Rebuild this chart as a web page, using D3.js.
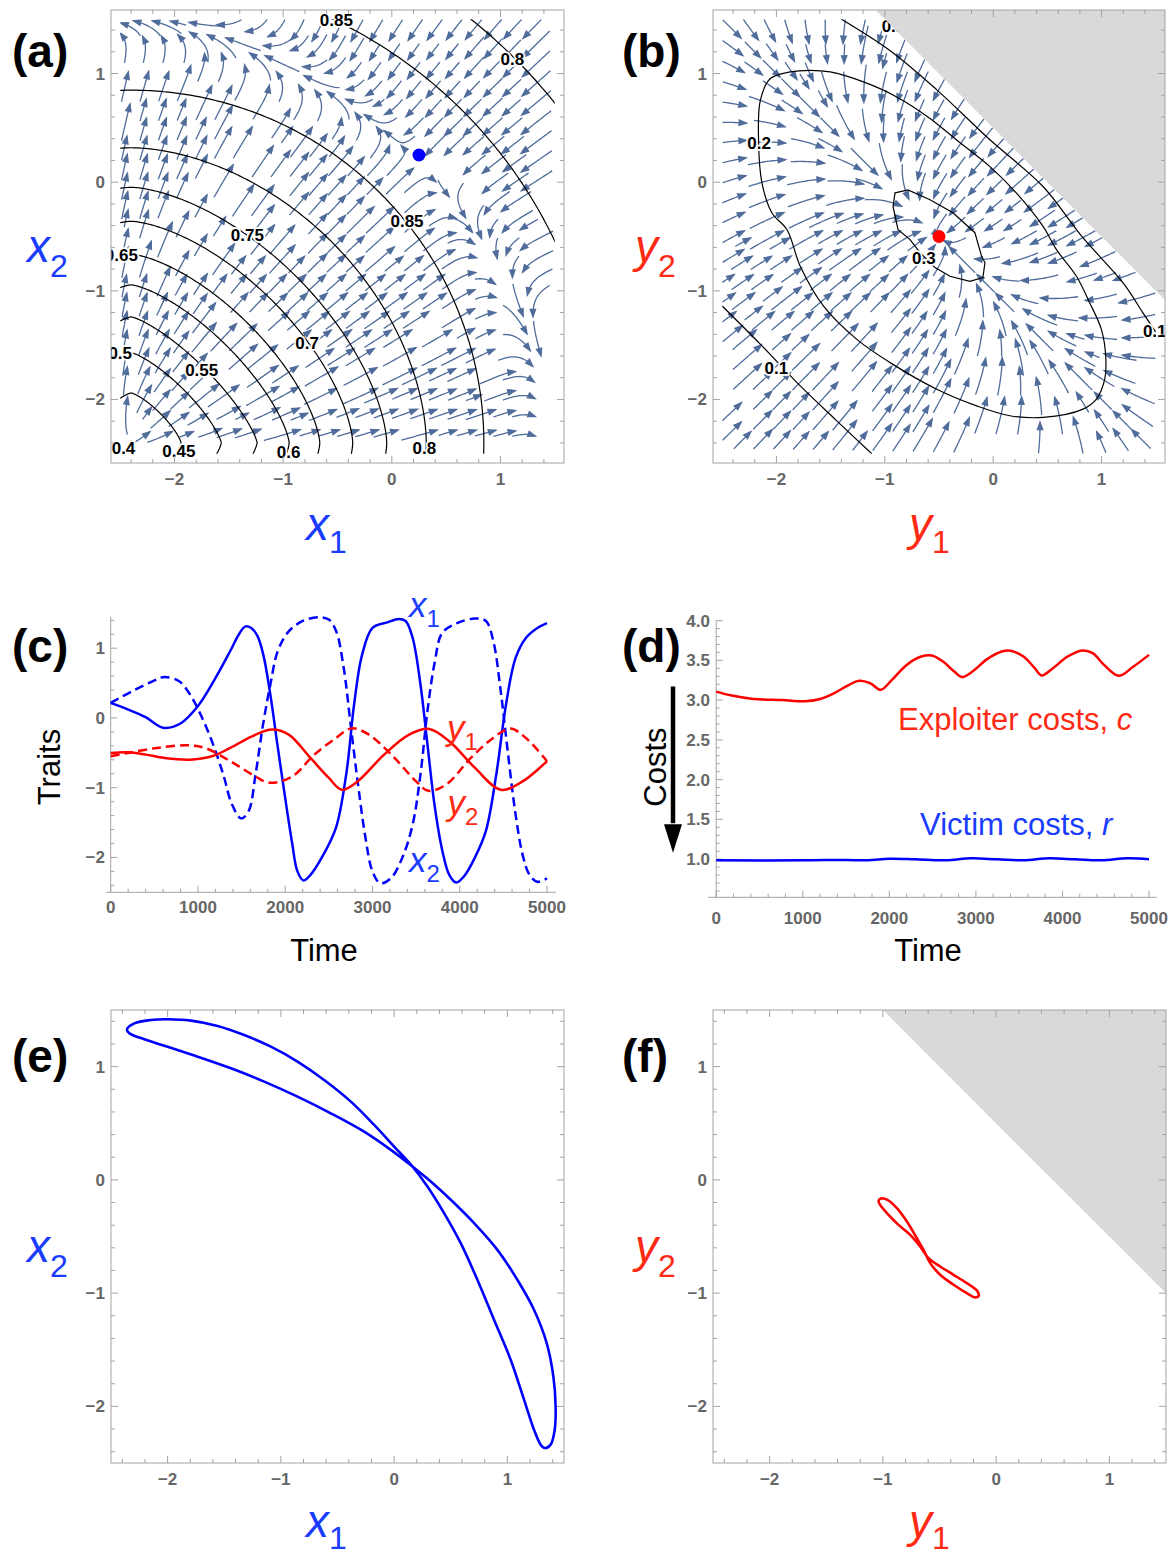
<!DOCTYPE html>
<html>
<head>
<meta charset="utf-8">
<title>Trait dynamics</title>
<script src="https://cdn.jsdelivr.net/npm/d3@7"></script>
<style>
  body { margin: 0; background: #fff; }
  svg text { font-family: "Liberation Sans", Arial, Helvetica, sans-serif; }
</style>
</head>
<body>
<div id="root"></div>
<script>
// ---------- values ----------

// (a) fitness contours: common centre, radius and superellipse exponent per level
const contourCenterA = [-2.4, -2.4];
const contourLevelsA = [0.4, 0.45, 0.5, 0.55, 0.6, 0.65, 0.7, 0.75, 0.8, 0.85, 0.85, 0.8];
const contourRadiiA = [0.02, 0.46, 0.83, 1.16, 1.455, 1.737, 2.04, 2.353, 2.717, 3.247, 4.32, 5.0];
const contourShapeA = [2, 1.3, 1.3, 1.3, 1.4, 1.48, 1.55, 1.6, 1.8, 2, 2, 2];
const contourTextA = ['0.85', '0.8', '0.85', '0.75', '0.65', '0.7', '0.5', '0.55', '0.4', '0.45', '0.6', '0.8'];
const contourTextXA = [-0.51, 1.11, 0.14, -1.33, -2.49, -0.78, -2.5, -1.75, -2.47, -1.96, -0.95, 0.30];
const contourTextYA = [1.49, 1.13, -0.36, -0.49, -0.67, -1.48, -1.57, -1.73, -2.45, -2.47, -2.48, -2.45];
const equilibriumA = [0.25, 0.25];
// (a) selection gradient: ridge radius, extra radius at the ends, ridge width, along-ridge and inward rates
const ridgeA = [3.7, 0.25, 0.28];
const flowRatesA = [0.3, 0.25];

// (b) exploiter contours
const contour02B = [[-2.164, 0.358], [-2.148, 0.755], [-2.056, 0.954], [-1.872, 1.015], [-1.688, 1.030],
  [-1.504, 1.015], [-1.197, 0.923], [-0.890, 0.785], [-0.583, 0.587], [-0.337, 0.388], [-0.030, 0.143],
  [0.215, -0.101], [0.460, -0.407], [0.584, -0.621], [0.768, -0.866], [0.890, -1.110], [0.998, -1.355],
  [1.038, -1.600], [1.029, -1.814], [0.952, -1.997], [0.829, -2.089], [0.460, -2.165], [0.154, -2.150],
  [-0.153, -2.059], [-0.521, -1.906], [-0.951, -1.661], [-1.258, -1.447], [-1.565, -1.141],
  [-1.780, -0.774], [-1.902, -0.438], [-2.041, -0.284], [-2.133, -0.009]];
const contour03B = [[-0.906, -0.098], [-0.786, -0.071], [-0.583, -0.162], [-0.371, -0.281], [-0.169, -0.465],
  [-0.107, -0.683], [-0.076, -0.740], [-0.095, -0.878], [-0.215, -0.912], [-0.399, -0.866], [-0.537, -0.786],
  [-0.675, -0.649], [-0.767, -0.529], [-0.878, -0.437], [-0.924, -0.226]];
const contour01LowB = [[-2.5, -1.14], [-2.14, -1.5], [-1.78, -1.875], [-1.45, -2.19], [-1.12, -2.5]];
const contour01HighB = [[-1.40, 1.50], [-0.95, 1.21], [-0.52, 0.85], [-0.03, 0.39], [0.46, -0.04],
  [0.81, -0.49], [1.20, -0.93], [1.38, -1.20], [1.5, -1.38]];
const contourTextB = ['0.2', '0.3', '0.1', '0.1', '0.1'];
const contourTextXB = [-2.16, -0.64, -2.0, 1.49, -0.92];
const contourTextYB = [0.36, -0.70, -1.71, -1.37, 1.44];
const equilibriumB = [-0.5, -0.5];
const flowRatesB = [1, 0.3];   // across and along the slow direction
const feasibleSum = 0.5;       // y1 + y2 above this is shaded

// (c) traits over time
const traitX1 = [[0, 0.215], [200, 0.12], [400, 0.01], [600, -0.14], [800, -0.08], [1000, 0.17], [1200, 0.57],
  [1370, 0.96], [1470, 1.2], [1540, 1.31], [1610, 1.29], [1680, 1.18], [1750, 0.9], [1830, 0.33], [1910, -0.38],
  [2000, -1.15], [2080, -1.8], [2140, -2.2], [2210, -2.33], [2290, -2.25], [2420, -2.0], [2580, -1.58],
  [2700, -0.8], [2790, 0.2], [2880, 0.9], [3000, 1.29], [3170, 1.37], [3300, 1.42], [3380, 1.39], [3460, 1.15],
  [3550, 0.48], [3630, -0.38], [3710, -1.24], [3800, -1.9], [3880, -2.25], [3960, -2.36], [4050, -2.27],
  [4175, -2.0], [4300, -1.62], [4420, -0.8], [4530, 0.19], [4640, 0.86], [4760, 1.15], [4890, 1.29], [5000, 1.36]];
const traitX2 = [[0, 0.215], [240, 0.38], [490, 0.53], [600, 0.585], [780, 0.53], [910, 0.335], [1030, 0.05],
  [1160, -0.335], [1290, -0.81], [1390, -1.24], [1495, -1.44], [1580, -1.34], [1660, -0.81], [1745, -0.1],
  [1830, 0.48], [1915, 0.96], [2040, 1.24], [2200, 1.39], [2380, 1.445], [2500, 1.41], [2585, 1.24],
  [2670, 0.72], [2750, -0.1], [2835, -0.96], [2920, -1.72], [3000, -2.2], [3090, -2.37], [3210, -2.3],
  [3340, -2.01], [3460, -1.53], [3550, -0.81], [3630, 0.1], [3715, 0.81], [3800, 1.22], [3970, 1.36],
  [4175, 1.425], [4300, 1.39], [4385, 1.1], [4470, 0.38], [4550, -0.48], [4635, -1.34], [4720, -1.96],
  [4800, -2.25], [4890, -2.35], [5000, -2.3]];
const traitY1 = [[0, -0.502], [200, -0.493], [400, -0.526], [620, -0.574], [900, -0.598], [1160, -0.55],
  [1370, -0.43], [1620, -0.263], [1850, -0.167], [2040, -0.24], [2290, -0.574], [2500, -0.86], [2650, -1.03],
  [2830, -0.91], [3130, -0.53], [3420, -0.24], [3650, -0.158], [3880, -0.335], [4175, -0.717], [4470, -1.03],
  [4720, -0.91], [5000, -0.62]];
const traitY2 = [[0, -0.55], [200, -0.502], [530, -0.43], [870, -0.392], [1080, -0.43], [1370, -0.62],
  [1660, -0.84], [1820, -0.93], [2080, -0.84], [2330, -0.53], [2580, -0.29], [2760, -0.15], [2960, -0.24],
  [3250, -0.57], [3500, -0.91], [3640, -1.045], [3840, -0.96], [4130, -0.57], [4380, -0.29], [4580, -0.153],
  [4760, -0.29], [5000, -0.62]];

// (d) costs over time
const costExploiter = [[0, 3.107], [180, 3.057], [430, 3.015], [770, 3.0], [1020, 2.985], [1190, 3.011],
  [1360, 3.086], [1530, 3.19], [1650, 3.242], [1780, 3.212], [1900, 3.13], [2030, 3.254], [2200, 3.443],
  [2370, 3.548], [2490, 3.56], [2620, 3.485], [2750, 3.359], [2840, 3.29], [2960, 3.359], [3130, 3.515],
  [3300, 3.611], [3400, 3.62], [3550, 3.548], [3680, 3.401], [3760, 3.31], [3890, 3.401], [4060, 3.548],
  [4230, 3.624], [4350, 3.59], [4480, 3.443], [4650, 3.305], [4820, 3.422], [5000, 3.569]];
const costVictim = [[0, 0.985], [1000, 0.985], [1500, 0.99], [1750, 0.985], [2000, 1.005], [2300, 0.997],
  [2650, 0.985], [2950, 1.01], [3250, 0.997], [3550, 0.985], [3850, 1.01], [4150, 0.997], [4450, 0.985],
  [4750, 1.01], [5000, 1.0]];

// (e) victim limit cycle, (f) exploiter limit cycle
const cycleX = [[-2.359, 1.329], [-2.294, 1.382], [-2.147, 1.412], [-2.0, 1.418], [-1.794, 1.406], [-1.559, 1.359],
  [-1.324, 1.279], [-1.088, 1.176], [-0.853, 1.044], [-0.618, 0.882], [-0.382, 0.691], [-0.176, 0.485],
  [0, 0.294], [0.162, 0.118], [0.294, -0.059], [0.441, -0.294], [0.588, -0.559], [0.735, -0.882],
  [0.882, -1.235], [1.029, -1.588], [1.147, -1.941], [1.235, -2.206], [1.294, -2.338], [1.329, -2.368],
  [1.382, -2.338], [1.418, -2.206], [1.426, -2.0], [1.406, -1.735], [1.347, -1.441], [1.235, -1.147],
  [1.088, -0.882], [0.912, -0.618], [0.706, -0.382], [0.5, -0.176], [0.324, -0.015], [0.162, 0.118],
  [-0.029, 0.265], [-0.265, 0.426], [-0.559, 0.588], [-0.853, 0.735], [-1.147, 0.868], [-1.441, 0.985],
  [-1.735, 1.088], [-2.0, 1.176], [-2.206, 1.241], [-2.338, 1.294]];
const cycleY = [[-1.018, -0.165], [-0.959, -0.176], [-0.876, -0.25], [-0.788, -0.368], [-0.7, -0.515],
  [-0.641, -0.618], [-0.582, -0.735], [-0.494, -0.838], [-0.376, -0.926], [-0.259, -1.0], [-0.185, -1.038],
  [-0.153, -1.021], [-0.171, -0.976], [-0.259, -0.912], [-0.376, -0.838], [-0.494, -0.765], [-0.597, -0.691],
  [-0.671, -0.588], [-0.759, -0.485], [-0.862, -0.397], [-0.95, -0.309], [-1.024, -0.221], [-1.038, -0.185]];

// ---------- drawing ----------
const FRAME = '#a3a3a3', TICKTXT = '#666666', STREAM = '#4f6c9b';
const BLUE = '#0000ff', RED = '#ff0000', LBLUE = '#1a3cff', LRED = '#ff2a14';

const svg = d3.select('#root').append('svg').attr('width', 1170).attr('height', 1558);
const defs = svg.append('defs');

const majorT = [-2, -1, 0, 1];
const minorT = d3.range(-12, 8).map(i => i / 5).filter(v => Math.abs(v - Math.round(v)) > 1e-6);

function addClip(id, x, y, w, h) {
  defs.append('clipPath').attr('id', id).append('rect')
    .attr('x', x).attr('y', y).attr('width', w).attr('height', h);
  return 'url(#' + id + ')';
}

function drawFrame(g, xs, ys) {
  const [x0, x1] = xs.range(), [y0, y1] = ys.range();
  g.append('rect').attr('x', x0).attr('y', y1).attr('width', x1 - x0).attr('height', y0 - y1)
    .attr('fill', 'none').attr('stroke', FRAME).attr('stroke-width', 1);
  const tk = g.append('g').attr('stroke', FRAME).attr('stroke-width', 1);
  [[majorT, 7], [minorT, 4]].forEach(([vals, len]) => {
    tk.selectAll(null).data(vals).join('line')
      .attr('x1', d => xs(d)).attr('x2', d => xs(d)).attr('y1', y0).attr('y2', y0 - len);
    tk.selectAll(null).data(vals).join('line')
      .attr('x1', d => xs(d)).attr('x2', d => xs(d)).attr('y1', y1).attr('y2', y1 + len);
    tk.selectAll(null).data(vals).join('line')
      .attr('y1', d => ys(d)).attr('y2', d => ys(d)).attr('x1', x0).attr('x2', x0 + len);
    tk.selectAll(null).data(vals).join('line')
      .attr('y1', d => ys(d)).attr('y2', d => ys(d)).attr('x1', x1).attr('x2', x1 - len);
  });
  const fmt = d3.format('d');
  g.selectAll(null).data(majorT).join('text')
    .attr('x', d => xs(d)).attr('y', y0 + 22).attr('text-anchor', 'middle')
    .attr('fill', TICKTXT).style('font-size', '17px').style('font-weight', 'bold').text(fmt);
  g.selectAll(null).data(majorT).join('text')
    .attr('x', x0 - 6).attr('y', d => ys(d) + 6).attr('text-anchor', 'end')
    .attr('fill', TICKTXT).style('font-size', '17px').style('font-weight', 'bold').text(fmt);
}

function panelLabel(txt, x, y) {
  svg.append('text').attr('x', x).attr('y', y).style('font-size', '46px').style('font-weight', 'bold')
    .attr('fill', '#000').text(txt);
}

function subLabel(g, x, y, base, sub, size, subSize, color, drop) {
  const t = g.append('text').attr('x', x).attr('y', y).attr('fill', color).style('font-size', size + 'px');
  t.append('tspan').style('font-style', 'italic').text(base);
  t.append('tspan').attr('dy', drop).style('font-size', subSize + 'px').text(sub);
  return t;
}

// stream tracing with a simple occupancy grid, like a stream plot
function traceStreams(field, inside, step, back, fwd, dsep) {
  const occ = new Map();
  const key = (x, y) => Math.floor(x / dsep) + ',' + Math.floor(y / dsep);
  const h = 0.006;
  const dir = (x, y) => {
    const v = field(x, y), m = Math.hypot(v[0], v[1]);
    return m < 1e-5 ? null : [v[0] / m, v[1] / m];
  };
  function trace(x, y, sgn, maxLen, id) {
    const pts = [];
    let len = 0;
    while (len < maxLen) {
      const d1 = dir(x, y); if (!d1) break;
      const d2 = dir(x + sgn * d1[0] * h / 2, y + sgn * d1[1] * h / 2); if (!d2) break;
      const nx = x + sgn * d2[0] * h, ny = y + sgn * d2[1] * h;
      if (!inside(nx, ny)) break;
      const o = occ.get(key(nx, ny));
      if (o !== undefined && o !== id) break;
      x = nx; y = ny; len += h;
      pts.push([x, y]);
    }
    return pts;
  }
  const lines = [];
  let id = 0;
  for (let sy = 1.45; sy > -2.5; sy -= step) {
    for (let sx = -2.45; sx < 1.5; sx += step) {
      if (!inside(sx, sy) || occ.has(key(sx, sy))) continue;
      const b = trace(sx, sy, -1, back, id).reverse();
      const f = trace(sx, sy, 1, fwd, id);
      if (f.length < 6) continue;
      const pts = b.concat([[sx, sy]], f);
      if (pts.length * h < 0.12) continue;
      pts.forEach(p => occ.set(key(p[0], p[1]), id));
      lines.push(pts);
      id++;
    }
  }
  return lines;
}

function drawStreams(g, xs, ys, lines) {
  const line = d3.line().x(p => xs(p[0])).y(p => ys(p[1]));
  g.selectAll(null).data(lines).join('path')
    .attr('d', d => line(d.filter((p, i) => i % 3 === 0 || i === d.length - 1)))
    .attr('fill', 'none').attr('stroke', STREAM).attr('stroke-width', 1.3);
  g.selectAll(null).data(lines).join('path')
    .attr('d', d => {
      const a = d[d.length - 1], b = d[d.length - 6];
      const ax = xs(a[0]), ay = ys(a[1]);
      let ux = ax - xs(b[0]), uy = ay - ys(b[1]);
      const m = Math.hypot(ux, uy) || 1; ux /= m; uy /= m;
      const tx = ax + ux * 2, ty = ay + uy * 2, bx = ax - ux * 8, by = ay - uy * 8;
      return `M${tx},${ty}L${bx - uy * 3.6},${by + ux * 3.6}L${bx + uy * 3.6},${by - ux * 3.6}Z`;
    })
    .attr('fill', STREAM);
}

function labelOnLine(g, xs, ys, texts, xv, yv) {
  g.selectAll(null).data(texts).join('text')
    .attr('x', (d, i) => xs(xv[i])).attr('y', (d, i) => ys(yv[i]) + 6)
    .attr('text-anchor', 'middle').style('font-size', '17px').style('font-weight', 'bold')
    .attr('fill', '#000').attr('stroke', '#fff').attr('stroke-width', 3.5)
    .style('paint-order', 'stroke').text(d => d);
}

// ----- (a) -----
const domAB = [-2.585, 1.585];
const xa = d3.scaleLinear().domain(domAB).range([111, 564]);
const ya = d3.scaleLinear().domain(domAB).range([463, 10]);
const gA = svg.append('g');
const regionA = addClip('regA', xa(-2.5), ya(1.5), xa(1.5) - xa(-2.5), ya(-2.5) - ya(1.5));
const frameClipA = addClip('frA', 111, 10, 453, 453);

function fieldA(x, y) {
  const dx = x - contourCenterA[0], dy = y - contourCenterA[1];
  const r = Math.hypot(dx, dy), th = Math.atan2(dy, dx);
  const s2 = Math.sin(2 * (th - Math.PI / 4));
  const R = ridgeA[0] + ridgeA[1] * Math.pow(s2, 4);
  const vr = R - r;
  const g = Math.exp(-Math.pow((r - R) / ridgeA[2], 2));
  const vt = s2 * (flowRatesA[0] * g - flowRatesA[1] * Math.max(R - r, 0));
  return [(vr * dx - vt * dy) / r, (vr * dy + vt * dx) / r];
}
const insideBox = (x, y) => x >= -2.5 && x <= 1.5 && y >= -2.5 && y <= 1.5;
drawStreams(gA.append('g').attr('clip-path', regionA), xa, ya,
  traceStreams(fieldA, insideBox, 0.18, 0.17, 0.17, 0.085));

function superArc(c, r, p) {
  return d3.range(0, 241).map(i => {
    const t = -0.4 + (Math.PI / 2 + 0.8) * i / 240;
    const ct = Math.cos(t), st = Math.sin(t);
    return [c[0] + r * Math.sign(ct) * Math.pow(Math.abs(ct), 2 / p),
            c[1] + r * Math.sign(st) * Math.pow(Math.abs(st), 2 / p)];
  });
}
const lineA = d3.line().x(p => xa(p[0])).y(p => ya(p[1]));
gA.append('g').attr('clip-path', regionA).selectAll(null).data(contourLevelsA).join('path')
  .attr('d', (d, i) => lineA(superArc(contourCenterA, contourRadiiA[i], contourShapeA[i])))
  .attr('fill', 'none').attr('stroke', '#000').attr('stroke-width', 1.2);
labelOnLine(gA.append('g').attr('clip-path', frameClipA), xa, ya, contourTextA, contourTextXA, contourTextYA);
gA.append('circle').attr('cx', xa(equilibriumA[0])).attr('cy', ya(equilibriumA[1])).attr('r', 6.5).attr('fill', BLUE);
drawFrame(gA, xa, ya);

// ----- (b) -----
const xb = d3.scaleLinear().domain(domAB).range([713, 1165]);
const yb = ya;
const gB = svg.append('g');
const regionB = addClip('regB', xb(-2.5), yb(1.5), xb(1.5) - xb(-2.5), yb(-2.5) - yb(1.5));
const frameClipB = addClip('frB', 713, 10, 452, 453);

function fieldB(x, y) {
  const ux = x - equilibriumB[0], uy = y - equilibriumB[1];
  const s = (ux + uy) / Math.SQRT2, t = (ux - uy) / Math.SQRT2;
  const vs = -flowRatesB[0] * s, vt = -flowRatesB[1] * t;
  return [(vs + vt) / Math.SQRT2, (vs - vt) / Math.SQRT2];
}
const insideB = (x, y) => insideBox(x, y) && x + y < feasibleSum;
drawStreams(gB.append('g').attr('clip-path', regionB), xb, yb,
  traceStreams(fieldB, insideB, 0.18, 0.17, 0.17, 0.085));

const lineB = d3.line().x(p => xb(p[0])).y(p => yb(p[1]));
const cB = gB.append('g').attr('clip-path', regionB).attr('fill', 'none').attr('stroke', '#000').attr('stroke-width', 1.2);
cB.append('path').attr('d', lineB.curve(d3.curveCatmullRomClosed.alpha(0.5))(contour02B));
cB.append('path').attr('d', lineB.curve(d3.curveLinearClosed)(contour03B));
cB.append('path').attr('d', lineB.curve(d3.curveCatmullRom.alpha(0.5))(contour01LowB));
cB.append('path').attr('d', lineB.curve(d3.curveCatmullRom.alpha(0.5))(contour01HighB));
labelOnLine(gB.append('g').attr('clip-path', frameClipB), xb, yb, contourTextB, contourTextXB, contourTextYB);
gB.append('path').attr('clip-path', frameClipB)
  .attr('d', lineB.curve(d3.curveLinear)([[feasibleSum - domAB[1], domAB[1]], [domAB[1], domAB[1]],
    [domAB[1], feasibleSum - domAB[1]]]) + 'Z')
  .attr('fill', '#d9d9d9');
gB.append('circle').attr('cx', xb(equilibriumB[0])).attr('cy', yb(equilibriumB[1])).attr('r', 6.5).attr('fill', RED);
drawFrame(gB, xb, yb);

// ----- (c) -----
const xc = d3.scaleLinear().domain([0, 5000]).range([110.7, 547]);
const yc = d3.scaleLinear().domain([-2.5, 1.45]).range([892.3, 616.8]);
const gC = svg.append('g');
gC.append('line').attr('x1', xc(-50)).attr('x2', xc(5100)).attr('y1', yc(-2.5)).attr('y2', yc(-2.5)).attr('stroke', FRAME);
gC.append('line').attr('x1', xc(0)).attr('x2', xc(0)).attr('y1', yc(-2.5)).attr('y2', yc(1.45)).attr('stroke', FRAME);
const tC = gC.append('g').attr('stroke', FRAME);
tC.selectAll(null).data(d3.range(0, 5001, 200)).join('line')
  .attr('x1', d => xc(d)).attr('x2', d => xc(d)).attr('y1', yc(-2.5)).attr('y2', d => yc(-2.5) - (d % 1000 ? 3.5 : 6.5));
tC.selectAll(null).data(d3.range(-12, 8).map(i => i / 5)).join('line')
  .attr('y1', d => yc(d)).attr('y2', d => yc(d)).attr('x1', xc(0))
  .attr('x2', d => xc(0) + (Math.abs(d - Math.round(d)) < 1e-6 ? 6.5 : 3.5));
gC.selectAll(null).data(d3.range(0, 5001, 1000)).join('text')
  .attr('x', d => xc(d)).attr('y', 913).attr('text-anchor', 'middle').attr('fill', TICKTXT)
  .style('font-size', '17px').style('font-weight', 'bold').text(d3.format('d'));
gC.selectAll(null).data(majorT).join('text')
  .attr('x', 105).attr('y', d => yc(d) + 6).attr('text-anchor', 'end').attr('fill', TICKTXT)
  .style('font-size', '17px').style('font-weight', 'bold').text(d3.format('d'));

const lineC = d3.line().x(d => xc(d[0])).y(d => yc(d[1])).curve(d3.curveCatmullRom.alpha(0.5));
[[traitX1, BLUE, null], [traitX2, BLUE, '9,5'], [traitY1, RED, null], [traitY2, RED, '9,5']].forEach(([s, col, dash]) => {
  gC.append('path').datum(s).attr('d', lineC).attr('fill', 'none').attr('stroke', col)
    .attr('stroke-width', 2.5).attr('stroke-dasharray', dash);
});
subLabel(gC, xc(3418), yc(1.45), 'x', '1', 35, 24, LBLUE, 10);
subLabel(gC, xc(3855), yc(-0.31), 'y', '1', 35, 24, LRED, 10);
subLabel(gC, xc(3860), yc(-1.39), 'y', '2', 35, 24, LRED, 10);
subLabel(gC, xc(3418), yc(-2.21), 'x', '2', 35, 24, LBLUE, 10);
gC.append('text').attr('transform', 'translate(60,767) rotate(-90)').attr('text-anchor', 'middle')
  .style('font-size', '31px').attr('fill', '#000').text('Traits');
gC.append('text').attr('x', 324).attr('y', 961).attr('text-anchor', 'middle')
  .style('font-size', '31px').attr('fill', '#000').text('Time');

// ----- (d) -----
const xd = d3.scaleLinear().domain([0, 5000]).range([716.2, 1149]);
const yd = d3.scaleLinear().domain([0.52, 4]).range([897.3, 620.6]);
const gD = svg.append('g');
gD.append('line').attr('x1', xd(-95)).attr('x2', xd(5090)).attr('y1', yd(0.52)).attr('y2', yd(0.52)).attr('stroke', FRAME);
gD.append('line').attr('x1', xd(0)).attr('x2', xd(0)).attr('y1', yd(0.52)).attr('y2', yd(4)).attr('stroke', FRAME);
const tD = gD.append('g').attr('stroke', FRAME);
tD.selectAll(null).data(d3.range(0, 5001, 200)).join('line')
  .attr('x1', d => xd(d)).attr('x2', d => xd(d)).attr('y1', yd(0.52)).attr('y2', d => yd(0.52) - (d % 1000 ? 3.5 : 6.5));
tD.selectAll(null).data(d3.range(6, 41).map(i => i / 10)).join('line')
  .attr('y1', d => yd(d)).attr('y2', d => yd(d)).attr('x1', xd(0))
  .attr('x2', d => xd(0) + (Math.round(d * 10) % 5 ? 3.5 : 6.5));
gD.selectAll(null).data(d3.range(0, 5001, 1000)).join('text')
  .attr('x', d => xd(d)).attr('y', 924).attr('text-anchor', 'middle').attr('fill', TICKTXT)
  .style('font-size', '17px').style('font-weight', 'bold').text(d3.format('d'));
gD.selectAll(null).data(d3.range(2, 9).map(i => i / 2)).join('text')
  .attr('x', 710).attr('y', d => yd(d) + 6).attr('text-anchor', 'end').attr('fill', TICKTXT)
  .style('font-size', '17px').style('font-weight', 'bold').text(d3.format('.1f'));

const lineD = d3.line().x(d => xd(d[0])).y(d => yd(d[1])).curve(d3.curveCatmullRom.alpha(0.5));
gD.append('path').datum(costExploiter).attr('d', lineD).attr('fill', 'none').attr('stroke', RED).attr('stroke-width', 2.5);
gD.append('path').datum(costVictim).attr('d', lineD).attr('fill', 'none').attr('stroke', BLUE).attr('stroke-width', 2.5);
const exTxt = gD.append('text').attr('x', xd(2100)).attr('y', yd(2.62)).attr('fill', LRED).style('font-size', '31px');
exTxt.append('tspan').text('Exploiter costs, ');
exTxt.append('tspan').style('font-style', 'italic').text('c');
const viTxt = gD.append('text').attr('x', xd(2355)).attr('y', yd(1.3)).attr('fill', LBLUE).style('font-size', '31px');
viTxt.append('tspan').text('Victim costs, ');
viTxt.append('tspan').style('font-style', 'italic').text('r');
gD.append('line').attr('x1', 673).attr('x2', 673).attr('y1', yd(3.17)).attr('y2', yd(1.45))
  .attr('stroke', '#000').attr('stroke-width', 4.5);
gD.append('path').attr('d', `M664,${yd(1.44)}L682,${yd(1.44)}L673,${yd(1.08)}Z`).attr('fill', '#000');
gD.append('text').attr('transform', 'translate(666,767) rotate(-90)').attr('text-anchor', 'middle')
  .style('font-size', '31px').attr('fill', '#000').text('Costs');
gD.append('text').attr('x', 928).attr('y', 961).attr('text-anchor', 'middle')
  .style('font-size', '31px').attr('fill', '#000').text('Time');

// ----- (e) -----
const domEF = [-2.5, 1.5];
const xe = d3.scaleLinear().domain(domEF).range([111, 564]);
const ye = d3.scaleLinear().domain(domEF).range([1463, 1010]);
const gE = svg.append('g');
gE.append('path').datum(cycleX)
  .attr('d', d3.line().x(d => xe(d[0])).y(d => ye(d[1])).curve(d3.curveCatmullRomClosed.alpha(0.5)))
  .attr('fill', 'none').attr('stroke', BLUE).attr('stroke-width', 2.6);
drawFrame(gE, xe, ye);

// ----- (f) -----
const xf = d3.scaleLinear().domain(domEF).range([713, 1166]);
const yf = ye;
const gF = svg.append('g');
gF.append('path')
  .attr('d', d3.line().x(d => xf(d[0])).y(d => yf(d[1]))([[feasibleSum - domEF[1], domEF[1]], [domEF[1], domEF[1]],
    [domEF[1], feasibleSum - domEF[1]]]) + 'Z')
  .attr('fill', '#d9d9d9');
gF.append('path').datum(cycleY)
  .attr('d', d3.line().x(d => xf(d[0])).y(d => yf(d[1])).curve(d3.curveCatmullRomClosed.alpha(0.5)))
  .attr('fill', 'none').attr('stroke', RED).attr('stroke-width', 2.6);
drawFrame(gF, xf, yf);

// ----- panel and axis labels -----
panelLabel('(a)', 12, 67);
panelLabel('(b)', 622, 67);
panelLabel('(c)', 12, 662);
panelLabel('(d)', 622, 662);
panelLabel('(e)', 12, 1072);
panelLabel('(f)', 622, 1072);

subLabel(svg, 306, 540, 'x', '1', 46, 32, LBLUE, 13);
subLabel(svg, 27, 262, 'x', '2', 46, 32, LBLUE, 15);
subLabel(svg, 909, 540, 'y', '1', 46, 32, LRED, 13);
subLabel(svg, 635, 262, 'y', '2', 46, 32, LRED, 15);
subLabel(svg, 306, 1537, 'x', '1', 46, 32, LBLUE, 12);
subLabel(svg, 27, 1262, 'x', '2', 46, 32, LBLUE, 15);
subLabel(svg, 909, 1537, 'y', '1', 46, 32, LRED, 12);
subLabel(svg, 635, 1262, 'y', '2', 46, 32, LRED, 15);
</script>
</body>
</html>
